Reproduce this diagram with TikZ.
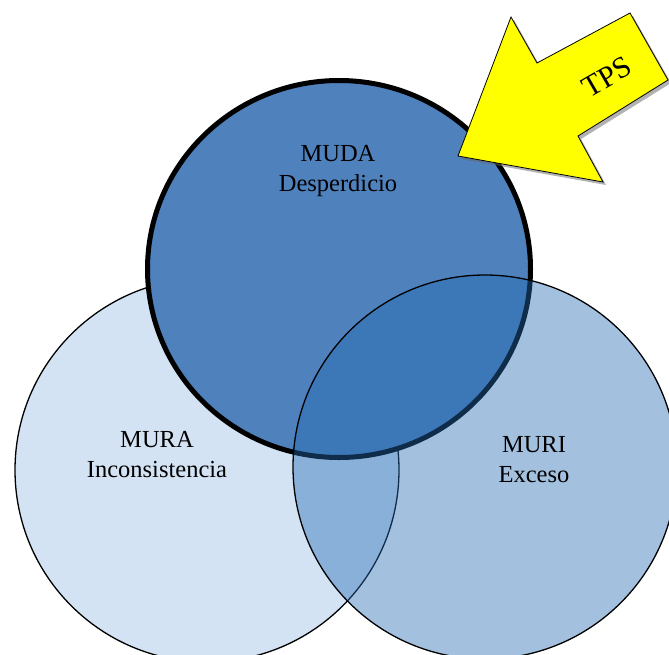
\documentclass[tikz,border=0pt]{standalone}
\usepackage{fontspec}
\setmainfont{Liberation Serif}
\usetikzlibrary{shapes.geometric,shadows}

\definecolor{muraBlue}{RGB}{211,227,243}
\definecolor{mudaBlue}{RGB}{79,129,189}
\definecolor{muriBlue}{RGB}{36,107,179}
\definecolor{tpsYellow}{RGB}{255,255,0}

\begin{document}
\begin{tikzpicture}[
    x=1pt, y=-1pt, % pixel grid, origin top left
    set/.style={ellipse,draw,line width=1.3pt,minimum width=384pt,minimum height=384pt,inner sep=0pt},
    mura/.style={set,fill=muraBlue},
    muda/.style={set,fill=mudaBlue,line width=5pt,minimum width=383pt,minimum height=377pt},
    muri/.style={set,fill=muriBlue,fill opacity=0.42},
    tag/.style={align=center,inner sep=0pt,font=\fontsize{24.5}{30}\selectfont},
    tps/.style={fill=tpsYellow,draw,line width=0.8pt,
        drop shadow={shadow xshift=3pt,shadow yshift=-3pt,fill=black!60,opacity=0.5}}
]
    \useasboundingbox (0,0) rectangle (669,654);

    % the three sets, bottom one first
    \node[mura] (mura) at (207,470) {};
    \node[muda] (muda) at (339,269) {};
    \node[muri] (muri) at (485,467) {};

    % labels
    \node[tag] (muralabel) at (157,455) {MURA\\Inconsistencia};
    \node[tag] (mudalabel) at (338,171) {MUDA\\Desperdicio};
    \node[tag] (murilabel) at (534,460) {MURI\\Exceso};

    % block arrow pointing at MUDA
    \draw[tps] (458,156) -- (511,17) -- (537,63) -- (630,13) -- (668,80)
        -- (578,136) -- (603,182) -- cycle;
    \node[rotate=30,inner sep=0pt,font=\fontsize{30}{36}\selectfont] (tps) at (607,77) {TPS};
\end{tikzpicture}
\end{document}
